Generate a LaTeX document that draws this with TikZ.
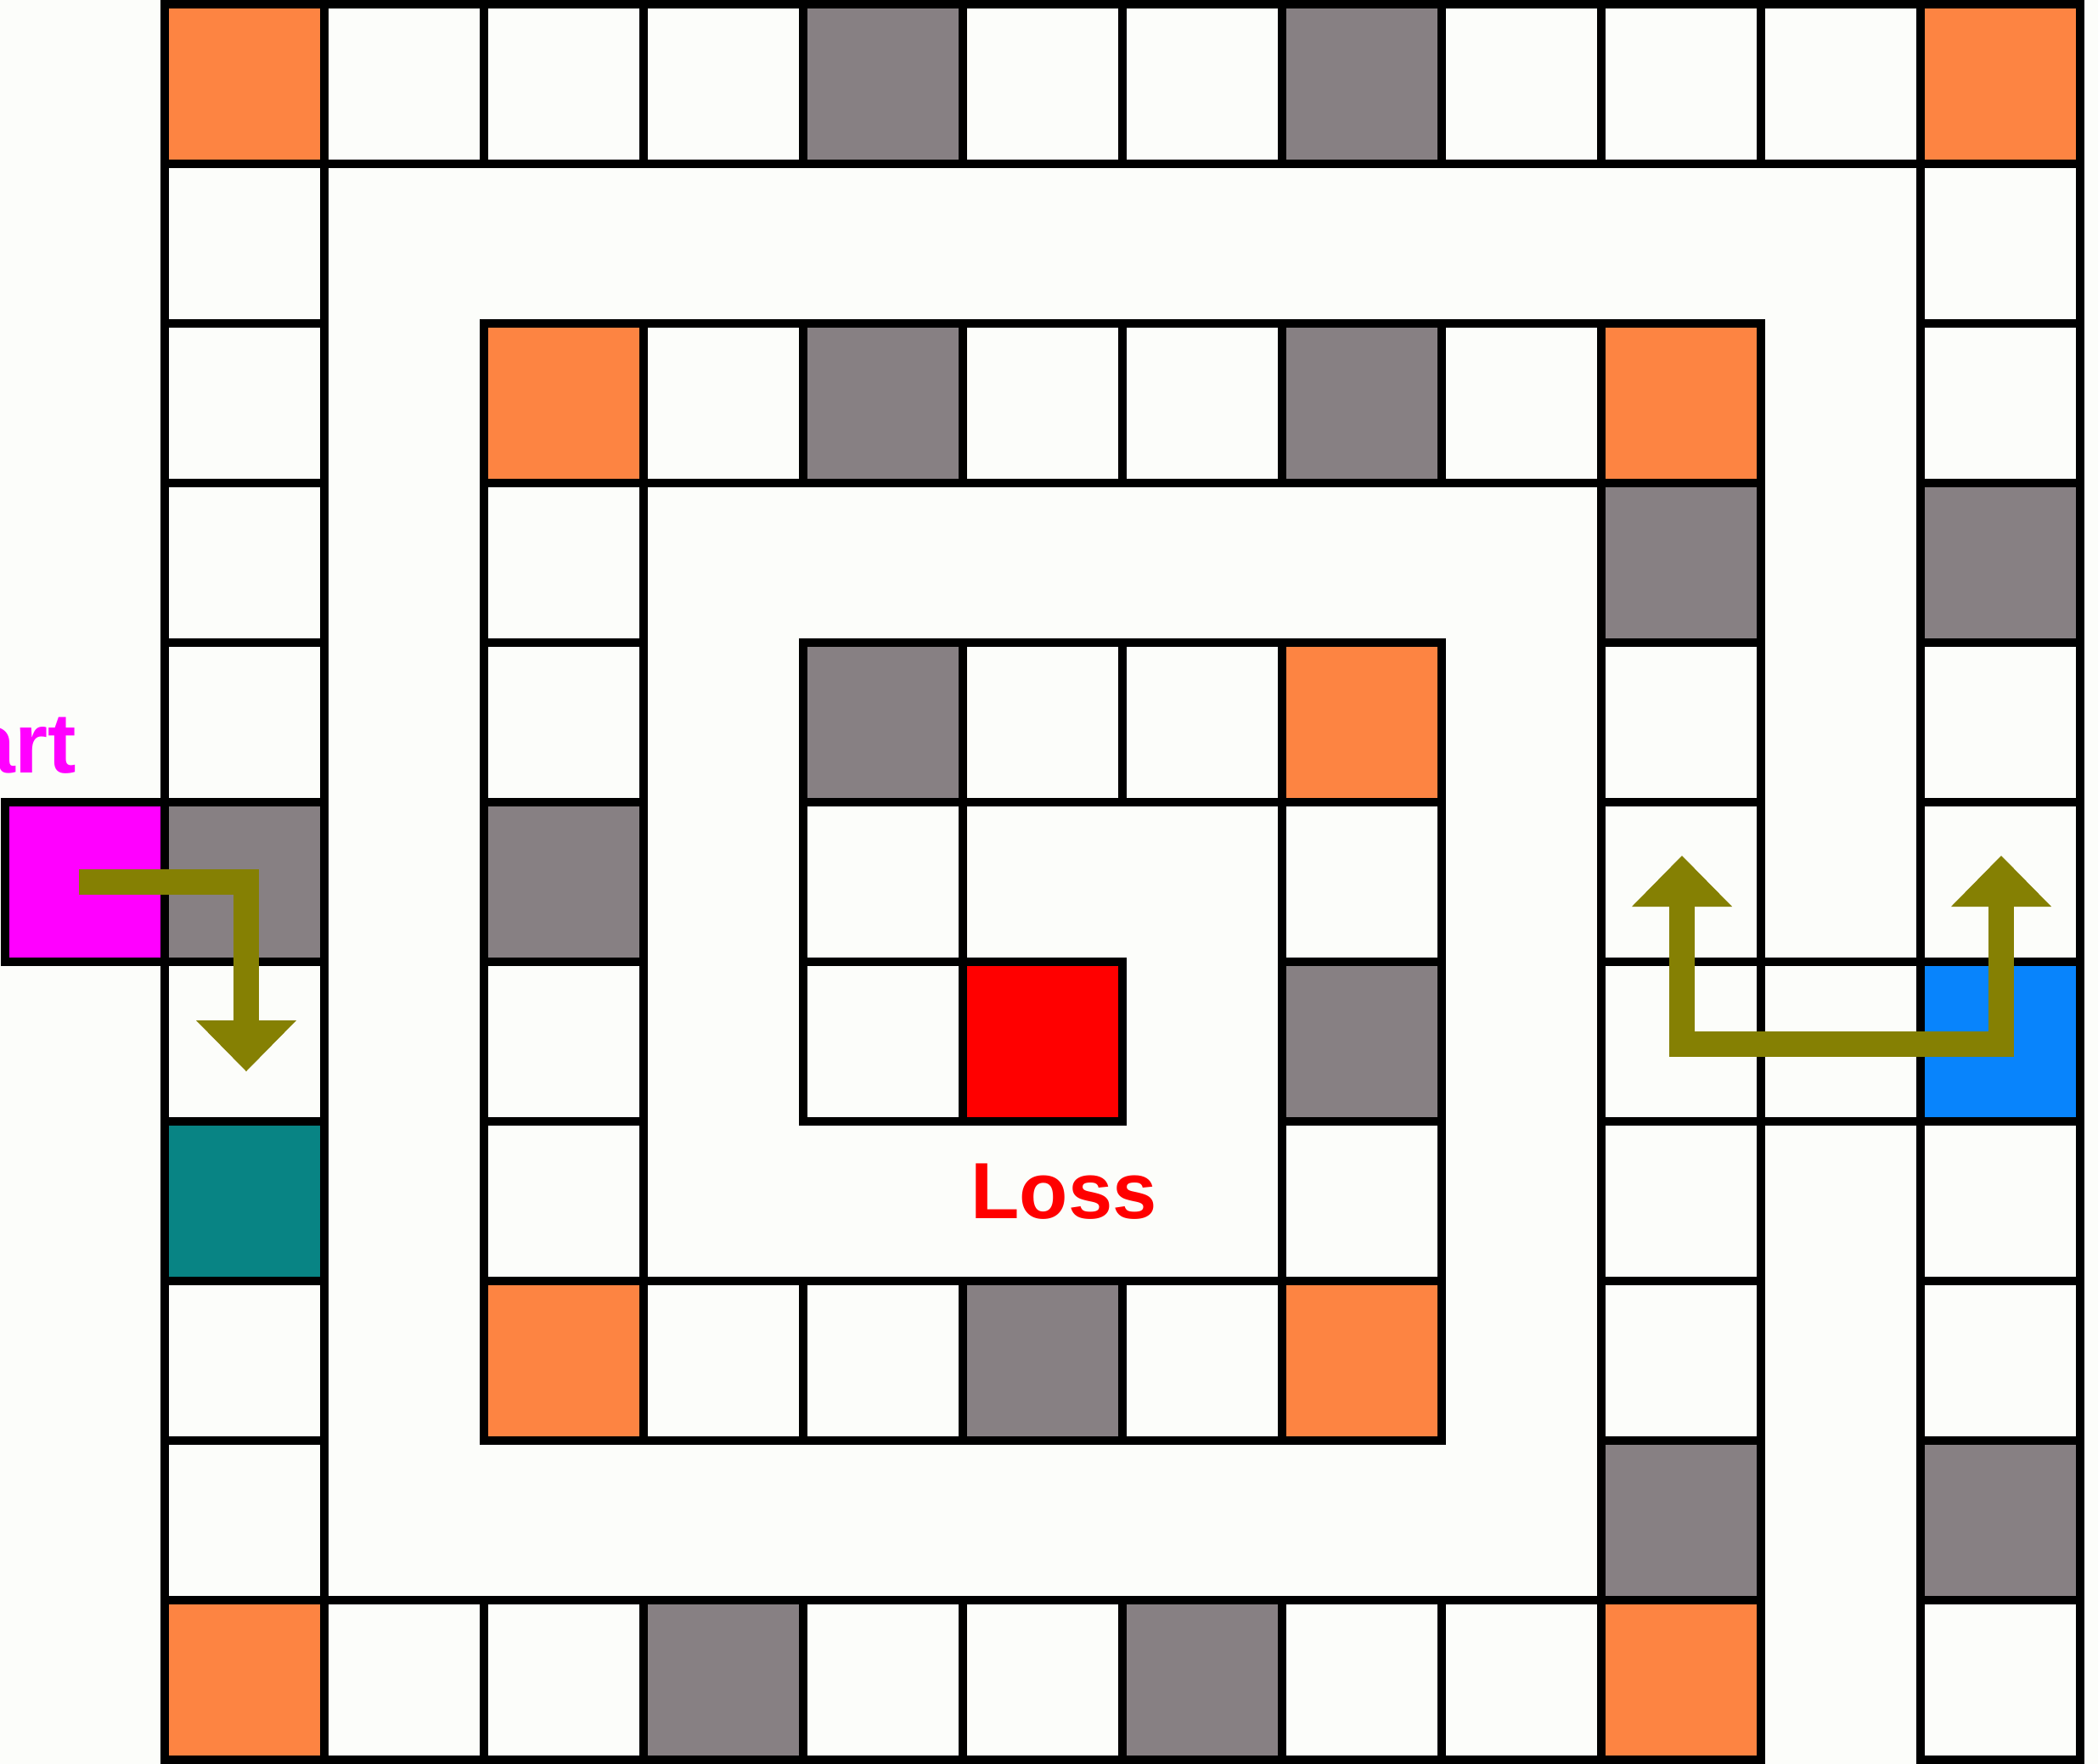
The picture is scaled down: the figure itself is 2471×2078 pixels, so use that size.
\documentclass[tikz,border=0pt]{standalone}
\usepackage{fontspec}
\setmainfont{Liberation Sans}
\definecolor{bgc}{RGB}{252,253,250}
\definecolor{org}{RGB}{253,132,66}
\definecolor{gry}{RGB}{135,128,131}
\definecolor{tea}{RGB}{8,132,132}
\definecolor{blu}{RGB}{8,132,252}
\definecolor{mag}{RGB}{255,0,255}
\definecolor{lossred}{RGB}{255,0,0}
\definecolor{olv}{RGB}{133,128,3}
\begin{document}
\begin{tikzpicture}[x=0.01cm,y=-0.01cm,
  cellline/.style={draw=black,line width=0.095cm},
  shaft/.style={draw=olv,line width=0.30cm,miter limit=10},
  headfill/.style={fill=olv},
  labeltext/.style={inner sep=0pt,font=\bfseries\fontsize{#1}{#1}\selectfont}]
\useasboundingbox (0,0) rectangle (2471,2078);
\fill[bgc] (0,0) rectangle (2471,2078);
\def\boardcells{%
0/0/org,1/0/bgc,2/0/bgc,3/0/bgc,4/0/gry,5/0/bgc,6/0/bgc,7/0/gry,8/0/bgc,9/0/bgc,10/0/bgc,11/0/org,%
0/1/bgc,0/2/bgc,0/3/bgc,0/4/bgc,0/5/gry,0/6/bgc,0/7/tea,0/8/bgc,0/9/bgc,0/10/org,%
1/10/bgc,2/10/bgc,3/10/gry,4/10/bgc,5/10/bgc,6/10/gry,7/10/bgc,8/10/bgc,9/10/org,%
11/1/bgc,11/2/bgc,11/3/gry,11/4/bgc,11/5/bgc,11/6/blu,11/7/bgc,11/8/bgc,11/9/gry,11/10/bgc,%
9/2/org,9/3/gry,9/4/bgc,9/5/bgc,9/6/bgc,9/7/bgc,9/8/bgc,9/9/gry,%
10/6/bgc,%
2/2/org,3/2/bgc,4/2/gry,5/2/bgc,6/2/bgc,7/2/gry,8/2/bgc,%
2/3/bgc,2/4/bgc,2/5/gry,2/6/bgc,2/7/bgc,2/8/org,%
3/8/bgc,4/8/bgc,5/8/gry,6/8/bgc,7/8/org,%
7/4/org,7/5/bgc,7/6/gry,7/7/bgc,%
4/4/gry,5/4/bgc,6/4/bgc,%
4/5/bgc,4/6/bgc,%
5/6/lossred,%
-1/5/mag}
\foreach \cx/\cy/\cc in \boardcells {
  \fill[\cc] ({194+188*\cx},{5+188*\cy}) rectangle ++(188,188);
}
\foreach \cx/\cy/\cc in \boardcells {
  \draw[cellline] ({194+188*\cx},{5+188*\cy}) rectangle ++(188,188);
}
% labels
\node[labeltext=28.5pt,text=mag,anchor=base east] (starttext) at (91,910) {Start};
\node[labeltext=26.7pt,text=lossred,anchor=base] (losstext) at (1253,1435) {Loss};
% arrow from start
\coordinate (a1s) at (93,1038.5);
\coordinate (a1c) at (290,1038.5);
\coordinate (a1e) at (290,1202);
\draw[shaft] (a1s) -- (a1c) -- (a1e);
\fill[headfill] (231,1202) -- (349,1202) -- (290,1262) -- cycle;
% U arrow
\coordinate (a2l) at (1981,1068);
\coordinate (a2bl) at (1981,1230);
\coordinate (a2br) at (2357,1230);
\coordinate (a2r) at (2357,1068);
\draw[shaft] (a2l) -- (a2bl) -- (a2br) -- (a2r);
\fill[headfill] (1922,1068) -- (2040,1068) -- (1981,1008) -- cycle;
\fill[headfill] (2298,1068) -- (2416,1068) -- (2357,1008) -- cycle;
\end{tikzpicture}
\end{document}
